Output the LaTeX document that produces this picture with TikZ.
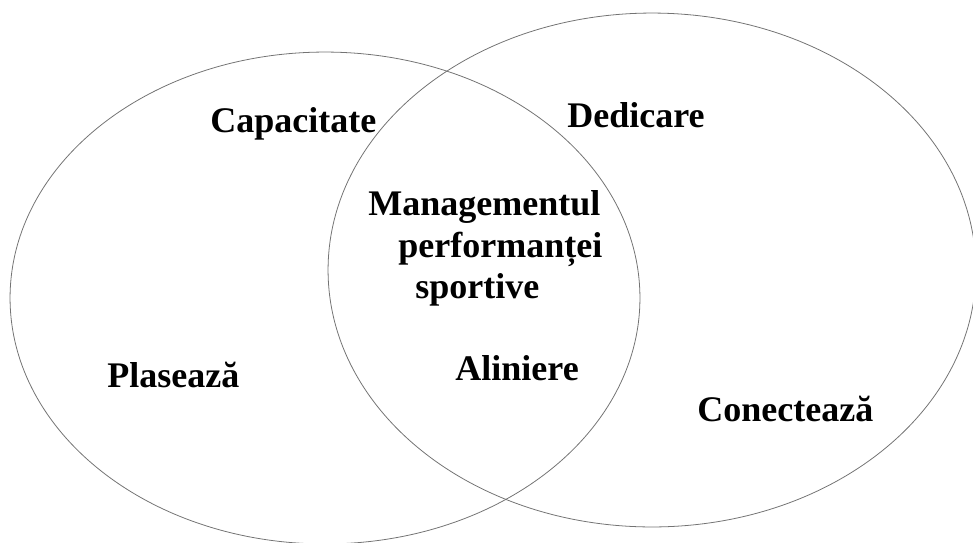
\documentclass[tikz,border=0pt]{standalone}
\usepackage{fontspec}
\setmainfont{Liberation Serif}
\usetikzlibrary{shapes.geometric,positioning}
\tikzstyle{set}   = [ellipse, draw=black!55, line width=0.45pt, inner sep=0pt]
\tikzstyle{label} = [font=\fontsize{20.5}{24}\selectfont\bfseries, inner sep=0pt, anchor=base west]

\begin{document}
\begin{tikzpicture}[x=0.02cm, y=-0.02cm]
		\useasboundingbox (0,0) rectangle (973,542);
		\node[set, minimum width=12.6cm, minimum height=9.84cm] (left) at (325,298) {};
		\node[set, minimum width=12.96cm, minimum height=10.28cm] (right) at (652,270) {};

		\node[label] (cap) at (210,132) {Capacitate};
		\node[label] (ded) at (567,127) {Dedicare};
		\node[label] (man) at (368,215) {Managementul};
		\node[label] (perf) at (398,257) {performanței};
		\node[label] (sport) at (415,298) {sportive};
		\node[label] (plas) at (107,387) {Plasează};
		\node[label] (alin) at (455,380) {Aliniere};
		\node[label] (con) at (697,421) {Conectează};
	\end{tikzpicture}
\end{document}
